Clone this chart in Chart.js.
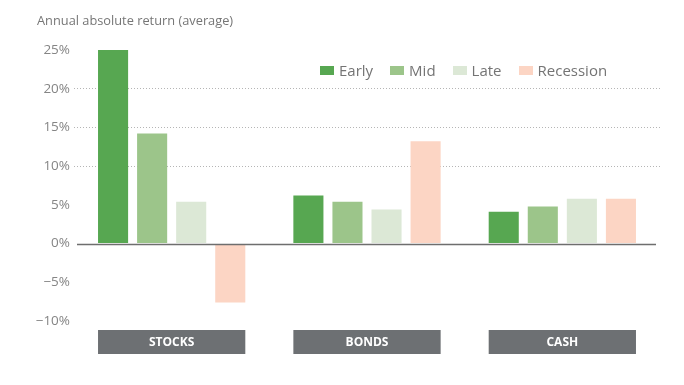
<!DOCTYPE html>
<html>
<head>
<meta charset="utf-8">
<script src="https://cdn.jsdelivr.net/npm/chart.js@4"></script>
<style>
  body { margin: 0; background: #fff; font-family: "Open Sans", sans-serif; }
  #wrap { position: relative; width: 684px; height: 385px; }
  #title { position: absolute; left: 37px; top: 11px; font-size: 12.8px; color: #767676; }
  #legend { position: absolute; left: 320px; top: 60px; display: flex; font-size: 15px; color: #747474; }
  #legend span.item { display: flex; align-items: center; margin-right: 17px; }
  #legend span.sw { width: 14px; height: 9px; margin-right: 5px; display: inline-block; }
</style>
</head>
<body>
<div id="wrap">
  <canvas id="chart" width="684" height="385"></canvas>
  <div id="title">Annual absolute return (average)</div>
  <div id="legend"></div>
</div>
<script>
const categories = ["STOCKS", "BONDS", "CASH"];
const phases = ["Early", "Mid", "Late", "Recession"];
const early = [25.1, 6.2, 4.1];
const mid = [14.2, 5.4, 4.8];
const late = [5.4, 4.4, 5.8];
const recession = [-7.6, 13.2, 5.8];
const colors = ["#57a751", "#9cc58a", "#dce8d6", "#fcd5c4"];
const yTicks = [-10, -5, 0, 5, 10, 15, 20, 25];

const seriesValues = [early, mid, late, recession];

// legend in html
const legendEl = document.getElementById("legend");
phases.forEach((p, i) => {
  const item = document.createElement("span");
  item.className = "item";
  item.innerHTML = '<span class="sw" style="background:' + colors[i] + '"></span>' + p;
  legendEl.appendChild(item);
});

// zero line + category boxes
const extras = {
  id: "extras",
  afterDatasetsDraw(chart) {
    const ctx = chart.ctx;
    const y = chart.scales.y;
    const area = chart.chartArea;
    const y0 = Math.round(y.getPixelForValue(0)) + 0.5;
    ctx.save();
    ctx.strokeStyle = "#6e6e6e";
    ctx.lineWidth = 1.3;
    ctx.beginPath();
    ctx.moveTo(area.left + 3, y0);
    ctx.lineTo(area.right - 4, y0);
    ctx.stroke();

    const first = chart.getDatasetMeta(0).data;
    const last = chart.getDatasetMeta(seriesValues.length - 1).data;
    categories.forEach((c, i) => {
      const left = first[i].x - first[i].width / 2;
      const right = last[i].x + last[i].width / 2;
      ctx.fillStyle = "#6d7073";
      ctx.fillRect(left, 330, right - left, 24);
      ctx.fillStyle = "#ffffff";
      ctx.font = "bold 12px 'Open Sans', sans-serif";
      ctx.textAlign = "center";
      ctx.textBaseline = "middle";
      ctx.fillText(c, (left + right) / 2, 342.5);
    });
    ctx.restore();
  }
};

new Chart(document.getElementById("chart"), {
  type: "bar",
  data: {
    labels: categories,
    datasets: phases.map((p, i) => ({
      label: p,
      data: seriesValues[i],
      backgroundColor: colors[i],
      borderWidth: 0,
      categoryPercentage: 0.8,
      barPercentage: 0.77
    }))
  },
  options: {
    responsive: false,
    animation: false,
    layout: { padding: { top: 50, bottom: 64, right: 24, left: 0 } },
    plugins: { legend: { display: false }, tooltip: { enabled: false } },
    scales: {
      x: { display: false },
      y: {
        min: -10,
        max: 25,
        afterFit(scale) { scale.width = 74; },
        afterBuildTicks(scale) { scale.ticks = yTicks.map(v => ({ value: v })); },
        border: { display: false, dash: [1, 2] },
        grid: {
          drawTicks: false,
          color: ctx => (ctx.tick && [10, 15, 20].includes(ctx.tick.value)) ? "#b5b5b5" : "rgba(0,0,0,0)",
          lineWidth: 1
        },
        ticks: {
          padding: 4,
          color: "#858585",
          font: { family: "'Open Sans', sans-serif", size: 13.5 },
          callback: v => (v < 0 ? "\u2212" + Math.abs(v) : v) + "%"
        }
      }
    }
  },
  plugins: [extras]
});
</script>
</body>
</html>
